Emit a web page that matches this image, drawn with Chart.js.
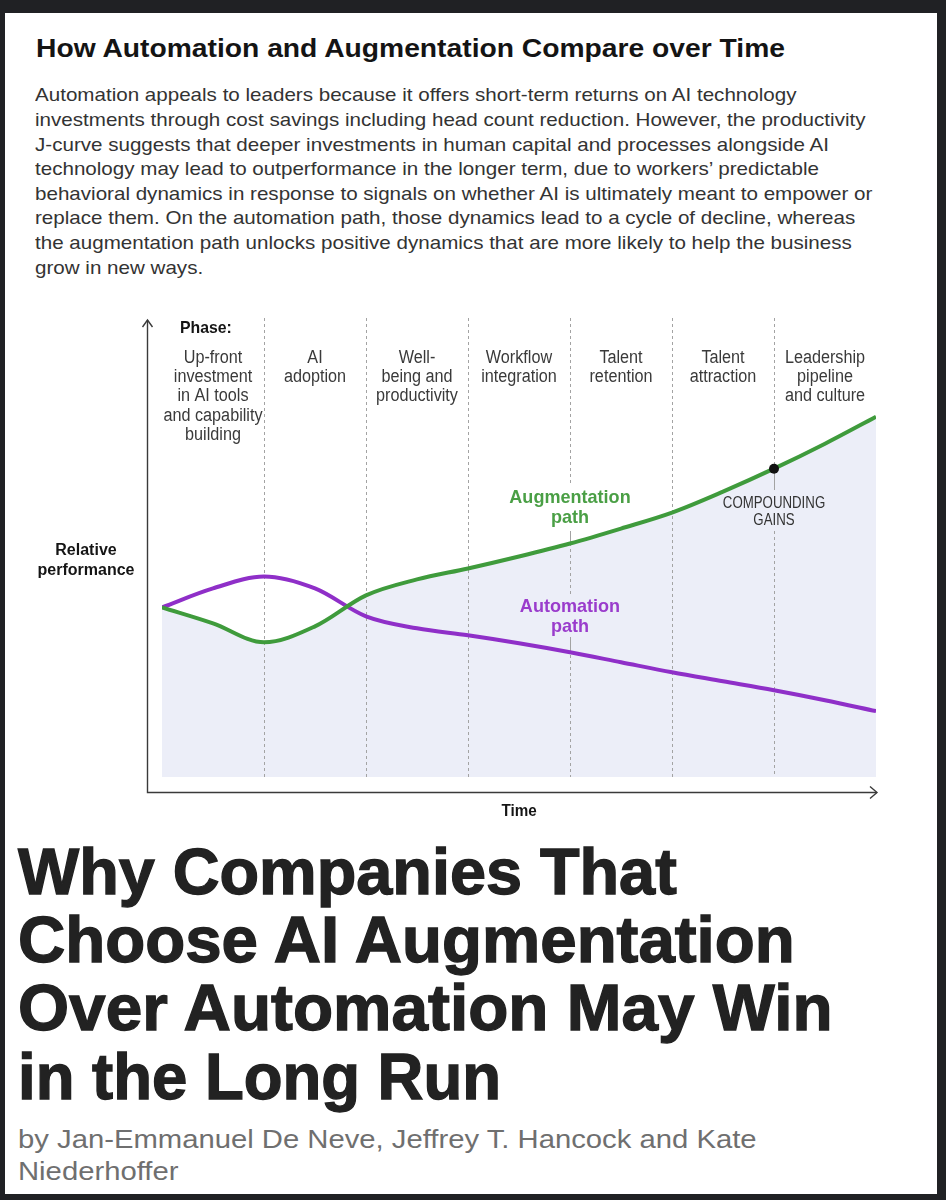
<!DOCTYPE html>
<html>
<head>
<meta charset="utf-8">
<script src="https://cdn.jsdelivr.net/npm/chart.js@4.4.1/dist/chart.umd.min.js"></script>
<style>
  html, body { margin: 0; padding: 0; background: #202124; }
  body { width: 946px; height: 1200px; position: relative; overflow: hidden; font-family: "Liberation Sans", Arial, sans-serif; }
  #card { position: absolute; left: 5px; top: 13px; width: 932px; height: 1181px; background: #fff; }
  .ln { position: absolute; white-space: nowrap; transform-origin: 0 0; }
  .head { -webkit-text-stroke: 1.3px #222; }
  #chart { position: absolute; left: 0; top: 280px; }
</style>
</head>
<body>
<div id="card"></div>
<canvas id="chart" width="946" height="560"></canvas>
<script>
// ---- data ----
const phaseLabels = [
  ["Up-front", "investment", "in AI tools", "and capability", "building"],
  ["AI", "adoption"],
  ["Well-", "being and", "productivity"],
  ["Workflow", "integration"],
  ["Talent", "retention"],
  ["Talent", "attraction"],
  ["Leadership", "pipeline", "and culture"]
];
const timeSteps = [0, 0.5, 1, 1.5, 2, 2.5, 3, 3.5, 4, 4.5, 5, 5.5, 6, 6.5, 7];
const augmentation = [17.0, 15.4, 13.5, 15.1, 18.2, 19.8, 20.9, 22.1, 23.4, 24.9, 26.5, 28.6, 30.9, 33.4, 36.1];
const automation = [17.0, 18.9, 20.1, 18.9, 16.1, 14.9, 14.2, 13.4, 12.5, 11.5, 10.5, 9.6, 8.7, 7.7, 6.6];
const compoundingAt = 6;

const titleText = "How Automation and Augmentation Compare over Time";
const introLines = [
  "Automation appeals to leaders because it offers short-term returns on AI technology",
  "investments through cost savings including head count reduction. However, the productivity",
  "J-curve suggests that deeper investments in human capital and processes alongside AI",
  "technology may lead to outperformance in the longer term, due to workers\u2019 predictable",
  "behavioral dynamics in response to signals on whether AI is ultimately meant to empower or",
  "replace them. On the automation path, those dynamics lead to a cycle of decline, whereas",
  "the augmentation path unlocks positive dynamics that are more likely to help the business",
  "grow in new ways."
];
const headlineLines = ["Why Companies That", "Choose AI Augmentation", "Over Automation May Win", "in the Long Run"];
const bylineLines = ["by Jan-Emmanuel De Neve, Jeffrey T. Hancock and Kate", "Niederhoffer"];

// ---- html text ----
function addLine(text, x, baseline, size, weight, color) {
  const d = document.createElement('div');
  d.className = 'ln';
  d.textContent = text;
  d.style.left = x + 'px';
  d.style.fontSize = size + 'px';
  d.style.lineHeight = size + 'px';
  d.style.fontWeight = weight;
  d.style.color = color;
  d.style.top = (baseline - 0.8465 * size) + 'px';
  document.body.appendChild(d);
  return d;
}
function squeeze(el, w) {
  const s = w / el.offsetWidth;
  el.style.transform = 'scaleX(' + s + ')';
  return s;
}

squeeze(addLine(titleText, 36, 57, 25, 'bold', '#141414'), 749);

const intro = introLines.map((t, i) => addLine(t, 35, 102 + 24.6 * i, 18.5, 'normal', '#333'));
const introScale = squeeze(intro[0], 762);
intro.forEach(el => el.style.transform = 'scaleX(' + introScale + ')');

const headW = [659, 777, 815, 483];
headlineLines.forEach((t, i) => {
  const el = addLine(t, 18, 894 + 68.3 * i, 64, 'bold', '#222');
  el.classList.add('head');
  squeeze(el, headW[i]);
});

const by = bylineLines.map((t, i) => addLine(t, 18, 1148 + 32 * i, 26, 'normal', '#6f6f6f'));
const byScale = squeeze(by[0], 739);
by[1].style.transform = 'scaleX(' + byScale + ')';

// ---- chart ----
const GREEN = '#3f9b3c', PURPLE = '#8f2fc8';
const FONT = '"Liberation Sans", Arial, sans-serif';

function txt(ctx, s, x, y, font, color, sx, align) {
  ctx.save();
  ctx.font = font;
  ctx.fillStyle = color;
  ctx.textAlign = align || 'center';
  ctx.textBaseline = 'alphabetic';
  ctx.translate(x, y);
  ctx.scale(sx, 1);
  ctx.fillText(s, 0, 0);
  ctx.restore();
}
function vline(ctx, x, y1, y2) {
  ctx.beginPath();
  ctx.moveTo(x, y1);
  ctx.lineTo(x, y2);
  ctx.stroke();
}

const decor = {
  id: 'decor',
  beforeDatasetsDraw(chart) {
    const { ctx, chartArea: a, scales: { x, y } } = chart;
    const augBox = [a.top + 167, a.top + 213];
    const autoBox = [a.top + 276, a.top + 319];
    const cgBox = [a.top + 172, a.top + 213];
    const k4 = timeSteps.indexOf(4), k6 = timeSteps.indexOf(compoundingAt);
    ctx.save();
    ctx.strokeStyle = '#a3a3a3';
    ctx.lineWidth = 1;
    for (let i = 1; i < phaseLabels.length; i++) {
      const px = Math.round(x.getPixelForValue(i)) + 0.5;
      ctx.setLineDash([3, 3]);
      if (i === 4) {
        vline(ctx, px, a.top, augBox[0]);
        vline(ctx, px, augBox[1], autoBox[0]);
        vline(ctx, px, autoBox[1], a.bottom);
        ctx.setLineDash([]);
        vline(ctx, px, augBox[1], y.getPixelForValue(augmentation[k4]));
        vline(ctx, px, autoBox[1], y.getPixelForValue(automation[k4]));
      } else if (i === compoundingAt) {
        vline(ctx, px, a.top, cgBox[0]);
        vline(ctx, px, cgBox[1], a.bottom);
        ctx.setLineDash([]);
        vline(ctx, px, y.getPixelForValue(augmentation[k6]), cgBox[0]);
      } else {
        vline(ctx, px, a.top, a.bottom);
      }
    }
    ctx.restore();
  },
  afterDatasetsDraw(chart) {
    const { ctx, chartArea: a, scales: { x, y } } = chart;
    const k6 = timeSteps.indexOf(compoundingAt);
    ctx.save();
    ctx.fillStyle = '#111';
    ctx.beginPath();
    ctx.arc(x.getPixelForValue(compoundingAt), y.getPixelForValue(augmentation[k6]), 5, 0, Math.PI * 2);
    ctx.fill();
    ctx.restore();

    // axes with arrow heads
    const ax = a.left - 14.5, ay = a.bottom + 15.5;
    ctx.save();
    ctx.strokeStyle = '#3a3a3a';
    ctx.lineWidth = 1.4;
    ctx.beginPath();
    ctx.moveTo(ax, a.top + 2);
    ctx.lineTo(ax, ay);
    ctx.lineTo(a.right + 1, ay);
    ctx.stroke();
    ctx.beginPath();
    ctx.moveTo(ax - 5, a.top + 9); ctx.lineTo(ax, a.top + 2); ctx.lineTo(ax + 5, a.top + 9);
    ctx.moveTo(a.right - 6, ay - 6); ctx.lineTo(a.right + 1, ay); ctx.lineTo(a.right - 6, ay + 6);
    ctx.stroke();
    ctx.restore();

    // texts
    txt(ctx, 'Phase:', a.left + 18, a.top + 15, 'bold 17px ' + FONT, '#151515', 0.93, 'left');
    phaseLabels.forEach((lines, i) => {
      const cx = x.getPixelForValue(i + 0.5);
      lines.forEach((s, j) => txt(ctx, s, cx, a.top + 45 + 19.2 * j, '18px ' + FONT, '#3a3a3a', 0.9));
    });
    txt(ctx, 'Relative', a.left - 76, a.top + 237, 'bold 16px ' + FONT, '#151515', 1);
    txt(ctx, 'performance', a.left - 76, a.top + 257, 'bold 16px ' + FONT, '#151515', 1);
    txt(ctx, 'Time', (a.left + a.right) / 2, a.bottom + 39, 'bold 16px ' + FONT, '#151515', 0.95);
    const x4 = x.getPixelForValue(4), x6 = x.getPixelForValue(compoundingAt);
    txt(ctx, 'Augmentation', x4, a.top + 185, 'bold 19px ' + FONT, '#4a9f45', 0.95);
    txt(ctx, 'path', x4, a.top + 205, 'bold 19px ' + FONT, '#4a9f45', 0.95);
    txt(ctx, 'Automation', x4, a.top + 294, 'bold 19px ' + FONT, '#9a3ccc', 0.95);
    txt(ctx, 'path', x4, a.top + 314, 'bold 19px ' + FONT, '#9a3ccc', 0.95);
    txt(ctx, 'COMPOUNDING', x6, a.top + 190, '17px ' + FONT, '#333', 0.78);
    txt(ctx, 'GAINS', x6, a.top + 207, '17px ' + FONT, '#333', 0.78);
  }
};

new Chart(document.getElementById('chart'), {
  type: 'line',
  data: {
    datasets: [
      {
        label: 'Augmentation path',
        data: timeSteps.map((t, i) => ({ x: t, y: augmentation[i] })),
        borderColor: GREEN,
        borderWidth: 4,
        backgroundColor: '#eceef8',
        fill: 'start',
        pointRadius: 0,
        cubicInterpolationMode: 'monotone'
      },
      {
        label: 'Automation path',
        data: timeSteps.map((t, i) => ({ x: t, y: automation[i] })),
        borderColor: PURPLE,
        borderWidth: 4,
        fill: false,
        pointRadius: 0,
        cubicInterpolationMode: 'monotone'
      }
    ]
  },
  options: {
    responsive: false,
    animation: false,
    layout: { padding: { left: 162, right: 70, top: 38, bottom: 63 } },
    scales: {
      x: { type: 'linear', min: 0, max: 7, display: false },
      y: { min: 0, max: 46, display: false }
    },
    plugins: {
      legend: { display: false },
      tooltip: { enabled: false },
      filler: { drawTime: 'beforeDatasetsDraw' }
    }
  },
  plugins: [decor]
});
</script>
</body>
</html>
